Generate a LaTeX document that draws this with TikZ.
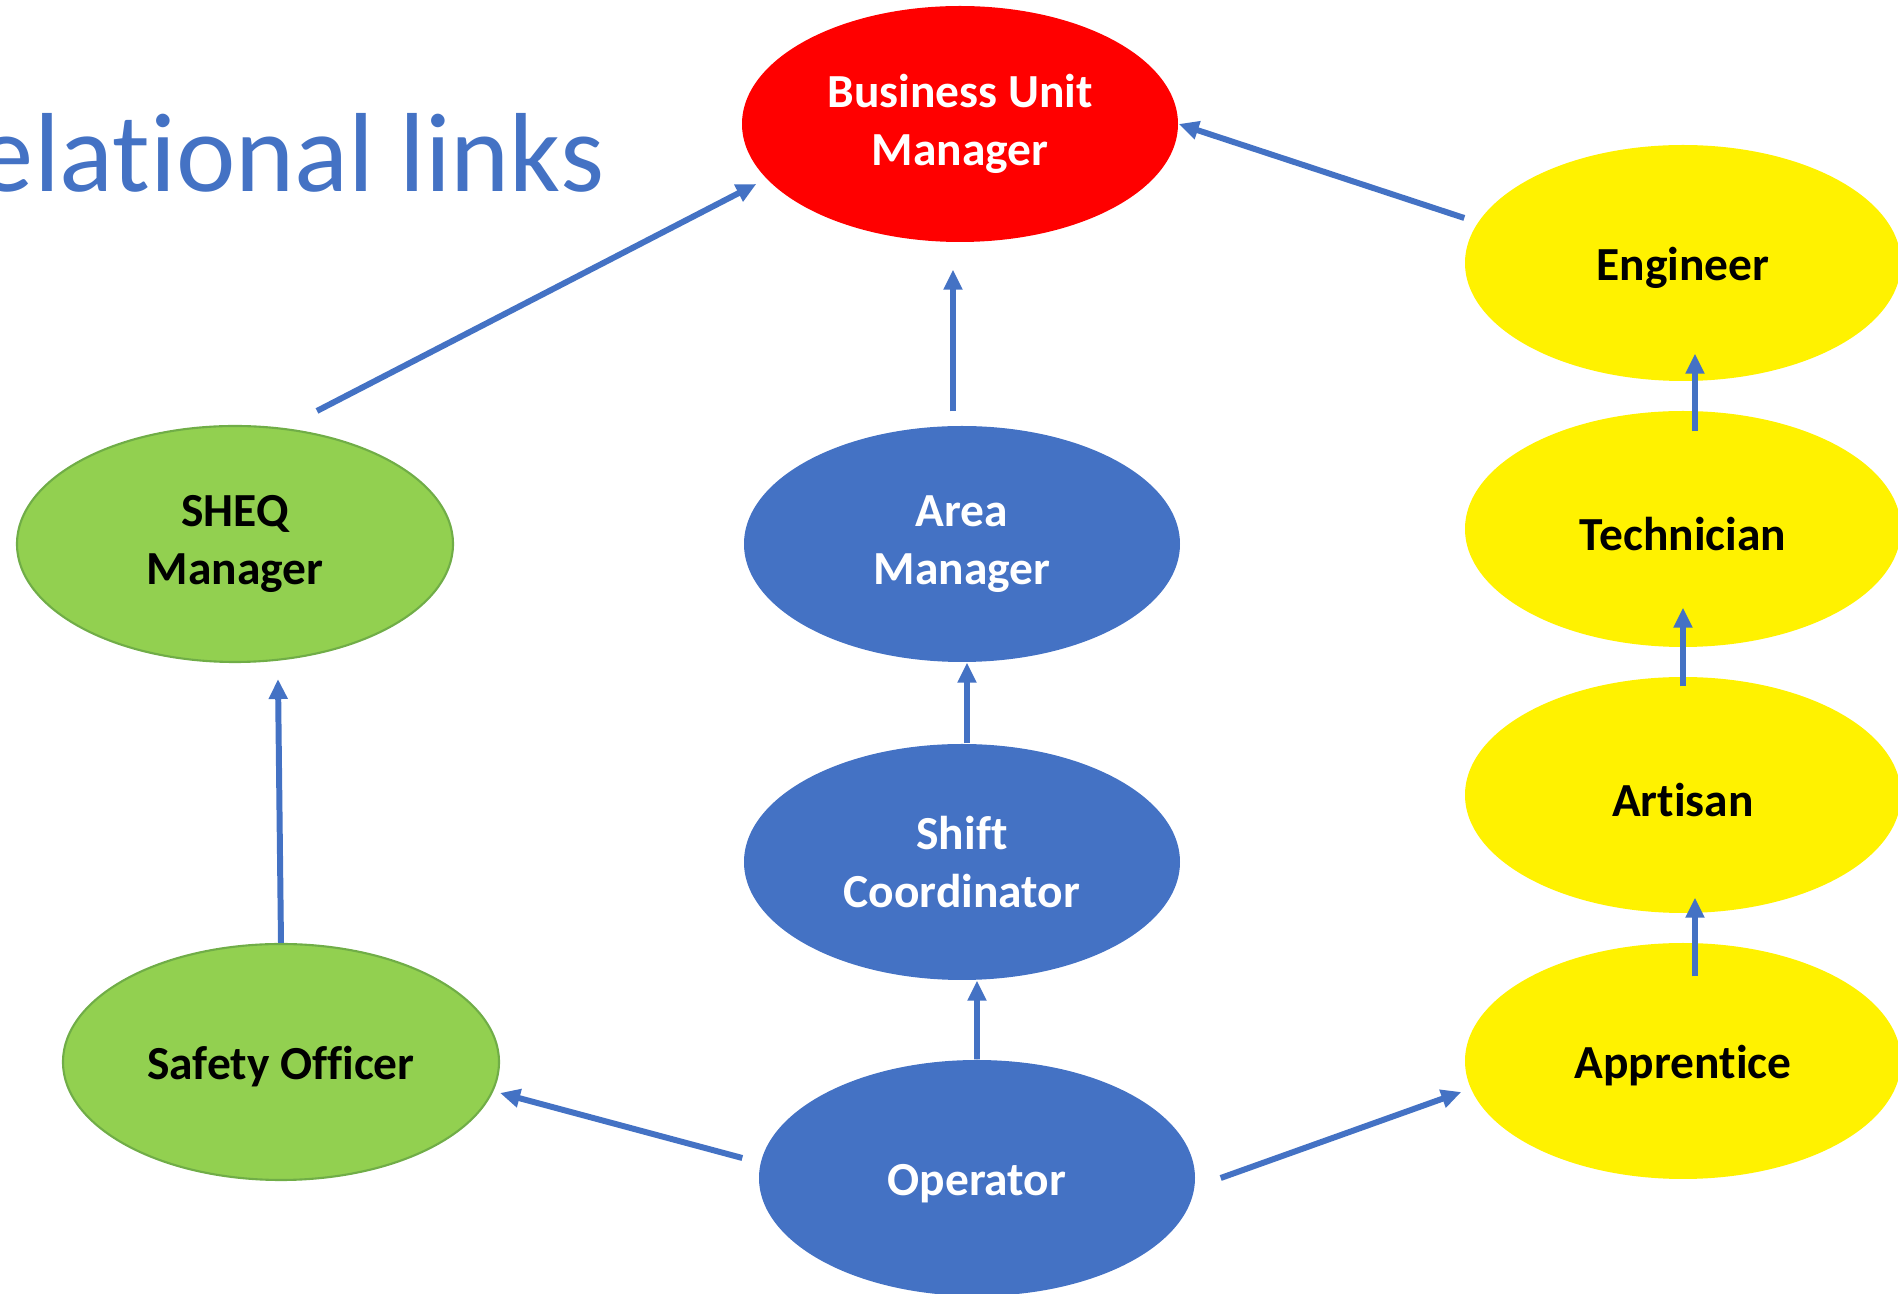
\documentclass[tikz,border=0pt]{standalone}
\usepackage{fontspec}
\setmainfont{Carlito}[Ligatures=NoCommon]
\usetikzlibrary{positioning,shapes.geometric,arrows.meta}
\definecolor{offblue}{HTML}{4472C4}
\definecolor{offgreen}{HTML}{92D050}
\definecolor{offgreenline}{HTML}{70AD47}
\begin{document}
\begin{tikzpicture}[node distance=2.66cm, auto]
    \tikzstyle{role} = [ellipse, minimum width=4.36cm, minimum height=2.36cm, inner sep=0pt, align=center, font=\fontsize{13.5}{16.5}\selectfont\bfseries, execute at begin node={\rule{0pt}{0.43cm}}]
    \tikzstyle{top} = [role, fill=red, text=white]
    \tikzstyle{ops} = [role, fill=offblue, text=white]
    \tikzstyle{safe} = [role, fill=offgreen, draw=offgreenline, line width=0.6pt, text=black]
    \tikzstyle{tech} = [role, fill=yellow, text=black]
    \tikzstyle{link} = [draw=offblue, line width=1.7pt, -{Triangle[length=0.2cm, width=0.18cm]}]

    \useasboundingbox (0,0) rectangle (18.98,-12.94);

    \node[anchor=base east, text=offblue, font=\fontsize{32}{38}\selectfont, inner sep=0pt] (title) at (6.05,-1.92) {Relational links};

    \node[top] (bum) at (9.60,-1.24) {Business Unit\\Manager};
    \node[ops] (area) at (9.62,-5.44) {Area\\Manager};
    \node[ops] (shift) at (9.62,-8.62) {Shift\\Coordinator};
    \node[ops] (operator) at (9.77,-11.78) {Operator};
    \node[safe] (sheq) at (2.35,-5.44) {SHEQ\\Manager};
    \node[safe] (safety) at (2.81,-10.62) {Safety Officer};
    \node[tech] (engineer) at (16.83,-2.63) {Engineer};
    \node[tech, below of=engineer] (technician) {Technician};
    \node[tech, below of=technician] (artisan) {Artisan};
    \node[tech, below of=artisan] (apprentice) {Apprentice};

    \draw[link] ([xshift=0.82cm, yshift=0.14cm]sheq.north) -- ([xshift=0.15cm, yshift=-0.60cm]bum.west);
    \draw[link] ([xshift=-0.09cm, yshift=0.14cm]area.north) -- ([xshift=-0.07cm, yshift=-0.27cm]bum.south);
    \draw[link] ([yshift=0.45cm]engineer.west) -- (bum.east);
    \draw[link] ([xshift=0.12cm, yshift=-0.21cm]technician.north) -- ([xshift=0.12cm, yshift=0.28cm]engineer.south);
    \draw[link] ([yshift=-0.10cm]artisan.north) -- ([yshift=0.40cm]technician.south);
    \draw[link] ([xshift=0.12cm, yshift=-0.34cm]apprentice.north) -- ([xshift=0.12cm, yshift=0.16cm]artisan.south);
    \draw[link] ([xshift=0.05cm]shift.north) -- ([xshift=0.05cm]area.south);
    \draw[link] (operator.north) -- ([xshift=0.15cm]shift.south);
    \draw[link] (safety.north) -- ([xshift=0.43cm, yshift=-0.16cm]sheq.south);
    \draw[link] ([xshift=-0.16cm, yshift=0.20cm]operator.west) -- ([yshift=-0.31cm]safety.east);
    \draw[link] ([xshift=0.25cm]operator.east) -- ([xshift=-0.03cm, yshift=-0.31cm]apprentice.west);
\end{tikzpicture}
\end{document}
